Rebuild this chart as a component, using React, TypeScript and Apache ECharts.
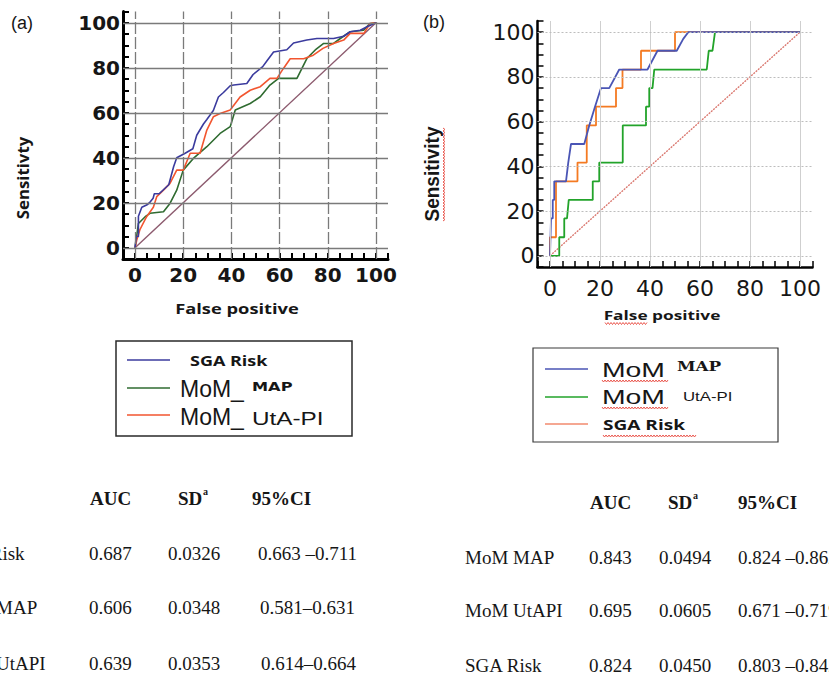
import React, { useEffect, useRef } from "react";
import * as echarts from "echarts";

// ---------- data ----------
const tickValues = [0, 20, 40, 60, 80, 100];

// Panel (a): [false positive %, sensitivity %]
const rocA_SGARisk = [
  [0, 0], [0.5, 5], [1.4, 5], [1.4, 14], [2.8, 18], [4.8, 19], [6, 20], [7.5, 22], [8, 24], [10, 24],
  [12, 26], [14, 28], [16, 36], [17.3, 40], [20.8, 42], [24, 44], [25.6, 50], [28.4, 55], [29.8, 57],
  [32.5, 61], [34.6, 67], [36.7, 69], [39.5, 72], [41, 72.3], [46.4, 73], [49, 77], [53, 80.5],
  [54.7, 83], [57.5, 87], [63, 88], [65.8, 91], [71.3, 92.3], [75.5, 93], [82.4, 93], [86.6, 94],
  [89.3, 96], [93.5, 96.7], [96.3, 98.2], [100, 100],
];
const rocA_MoMMAP = [
  [0, 0], [1.4, 10.8], [4.2, 13.8], [6.2, 15.3], [11.8, 16], [14.5, 19.7], [17.3, 25.6], [20, 34.5],
  [24.2, 39.7], [29.8, 44.9], [35.3, 50.8], [39.5, 53.8], [41.6, 61.2], [47.8, 64.1], [52, 67.1],
  [56, 72.3], [59.6, 75.3], [67.2, 75.3], [71.3, 84.1], [74.8, 87.9], [78.3, 90.8], [82.4, 90.8],
  [85.2, 93], [89.3, 96], [94.9, 96.7], [97.6, 99.7], [100, 100],
];
const rocA_MoMUtAPI = [
  [0, 0], [0.7, 3.4], [2, 8], [4.8, 13.8], [7.6, 18], [9, 22.7], [11.8, 25.6], [14.5, 28.6],
  [17.3, 34.5], [20, 34.5], [22.9, 42], [27, 42], [29.8, 52.3], [32.5, 58.2], [35.3, 59.7],
  [39.5, 61.2], [43.6, 67], [47.8, 70], [52, 71.6], [56, 75.3], [58.9, 75.3], [61.6, 79.7],
  [64.4, 84], [70, 84], [74, 85.6], [78, 88.6], [82.4, 90.8], [86.6, 92.3], [89.3, 95.3],
  [95, 95.3], [97.6, 99.7], [100, 100],
];

// Panel (b)
const rocB_MoMMAP = [
  [0, 0], [0.4, 16.7], [1.1, 16.7], [1.1, 25], [1.7, 25], [1.7, 33.3], [6.4, 33.3], [7.3, 41.7],
  [8.4, 50], [13.7, 50], [15.7, 58.3], [18, 66.7], [20.4, 75], [23.7, 75], [27.7, 83.3], [39, 83.3],
  [43, 91.7], [50.7, 91.7], [53.3, 97], [55.3, 100], [100, 100],
];
const rocB_MoMUtAPI = [
  [0, 0], [3.7, 0], [3.7, 8.3], [5.7, 8.3], [5.7, 16.7], [6.8, 16.7], [7.5, 25], [17.1, 25],
  [17.1, 33.3], [19.7, 33.3], [19.7, 41.7], [29.1, 41.7], [29.1, 58.3], [38.4, 58.3], [38.4, 66.7],
  [39.7, 66.7], [39.7, 75], [41, 75], [41.7, 83.3], [62.7, 83.3], [63.5, 91.7], [65, 91.7],
  [66, 100], [100, 100],
];
const rocB_SGARisk = [
  [0, 0], [0, 8.3], [2.4, 8.3], [2.4, 33.3], [11, 33.3], [11, 41.7], [14.7, 41.7], [14.7, 58.3],
  [18.4, 58.3], [18.4, 66.7], [26.4, 66.7], [26.4, 75], [29, 75], [29, 83.3], [36.4, 83.3],
  [36.4, 91.7], [50, 91.7], [50, 100], [100, 100],
];
const referenceLine = [[0, 0], [100, 100]];

const tableHeaders = ["AUC", "SD", "95%CI"];
const tableA_labels = ["SGA Risk", "MoM MAP", "MoM UtAPI"];
const tableA_auc = ["0.687", "0.606", "0.639"];
const tableA_sd = ["0.0326", "0.0348", "0.0353"];
const tableA_ci = ["0.663 –0.711", "0.581–0.631", "0.614–0.664"];
const tableB_labels = ["MoM MAP", "MoM UtAPI", "SGA Risk"];
const tableB_auc = ["0.843", "0.695", "0.824"];
const tableB_sd = ["0.0494", "0.0605", "0.0450"];
const tableB_ci = ["0.824 –0.862", "0.671 –0.719", "0.803 –0.842"];

// ---------- helpers ----------
const INK = "#161616";

function txt(text: string, x: number, y: number, font: string, opts: any = {}) {
  const align = opts.align || "left";
  const valign = opts.valign || "middle";
  return {
    type: "text",
    x,
    y,
    rotation: opts.rotation || 0,
    scaleX: opts.scaleX || 1,
    scaleY: opts.scaleY || 1,
    silent: true,
    z: 10,
    style: {
      text,
      font,
      fill: opts.fill || INK,
      textAlign: align,
      align,
      textVerticalAlign: valign,
      verticalAlign: valign,
    },
  };
}

function wavyH(x1: number, x2: number, y: number) {
  const pts: number[][] = [];
  let k = 0;
  for (let x = x1; x <= x2; x += 1.5) {
    pts.push([x, y + (k % 2 === 0 ? -1 : 1)]);
    k++;
  }
  return { type: "polyline", silent: true, z: 10, shape: { points: pts }, style: { stroke: "#e8463c", lineWidth: 0.9, fill: null } };
}
function wavyV(x: number, y1: number, y2: number) {
  const pts: number[][] = [];
  let k = 0;
  for (let y = y1; y <= y2; y += 1.5) {
    pts.push([x + (k % 2 === 0 ? -1 : 1), y]);
    k++;
  }
  return { type: "polyline", silent: true, z: 10, shape: { points: pts }, style: { stroke: "#e8463c", lineWidth: 0.9, fill: null } };
}
function hline(x1: number, x2: number, y: number, color: string) {
  return { type: "line", silent: true, z: 10, shape: { x1, y1: y, x2, y2: y }, style: { stroke: color, lineWidth: 1.5 } };
}

function axis(gridIndex: number, o: any) {
  return {
    type: "value",
    gridIndex,
    min: -5,
    max: 105,
    interval: 5,
    axisLine: { show: true, onZero: false, lineStyle: { color: "#000", width: o.lineWidth } },
    axisTick: { show: true, inside: true, length: 6, lineStyle: { color: "#000", width: o.tickWidth } },
    splitLine: { show: false },
    axisLabel: {
      formatter: (v: number) => (tickValues.includes(v) ? String(v) : ""),
      margin: o.margin,
      color: INK,
      fontSize: o.fontSize,
      fontWeight: o.fontWeight,
      fontFamily: "DejaVu Sans",
    },
  };
}

function gridMarks(vStyle: any, hStyle: any) {
  return {
    silent: true,
    symbol: ["none", "none"],
    label: { show: false },
    emphasis: { disabled: true },
    data: [
      ...tickValues.map((v) => ({ xAxis: v, lineStyle: vStyle })),
      ...tickValues.map((v) => ({ yAxis: v, lineStyle: hStyle })),
    ],
  };
}

function curve(name: string, xi: number, data: number[][], color: string, width = 1.6) {
  return {
    type: "line",
    name,
    xAxisIndex: xi,
    yAxisIndex: xi,
    data,
    symbol: "none",
    showSymbol: false,
    z: 4,
    lineStyle: { color, width },
    emphasis: { disabled: true },
  };
}

export default function App() {
  const ref = useRef<HTMLDivElement>(null);
  useEffect(() => {
    if (!ref.current) return;
    const chart = echarts.init(ref.current, null, { renderer: "svg" });

    const SER = "'Liberation Serif', serif";
    const OS = "'Open Sans', sans-serif";
    const LS = "'Liberation Sans', sans-serif";

    const graphic: any[] = [];
    // panel tags
    graphic.push(txt("(a)", 11, 23, `18px ${LS}`));
    graphic.push(txt("(b)", 423, 22, `18px ${LS}`));
    // axis names (a)
    graphic.push(txt("False positive", 237, 308, `bold 15px ${OS}`, { align: "center", scaleX: 1.22 }));
    graphic.push(txt("Sensitivty", 23, 178, `bold 16px ${OS}`, { align: "center", rotation: Math.PI / 2, scaleX: 1.05 }));
    // axis names (b)
    graphic.push(txt("False positive", 662, 315, `bold 13px ${OS}`, { align: "center", scaleX: 1.33 }));
    graphic.push(wavyH(605, 648, 323.5));
    graphic.push(txt("Sensitivity", 432, 174, `bold 20px ${LS}`, { align: "center", rotation: Math.PI / 2, scaleX: 0.95 }));
    graphic.push(wavyV(444, 128, 221));

    // legend (a)
    graphic.push({ type: "rect", silent: true, z: 9, shape: { x: 116, y: 341, width: 236, height: 95 }, style: { fill: "#fff", stroke: "#2a2a2a", lineWidth: 1.5 } });
    graphic.push(hline(127, 170, 360, "#3b3b9e"));
    graphic.push(txt("SGA Risk", 190, 360, `bold 15px ${OS}`, { scaleX: 1.2 }));
    graphic.push(hline(127, 170, 388, "#2f6b30"));
    graphic.push(txt("MoM_", 180, 389, `23px ${LS}`));
    graphic.push(txt("MAP", 252, 393, `bold 12px 'DejaVu Sans'`, { valign: "bottom", scaleX: 1.35 }));
    graphic.push(hline(127, 170, 415, "#f2552f"));
    graphic.push(txt("MoM_", 180, 417, `23px ${LS}`));
    graphic.push(txt("UtA-PI", 252, 418, `19px ${LS}`, { scaleX: 1.28 }));

    // legend (b)
    graphic.push({ type: "rect", silent: true, z: 9, shape: { x: 533, y: 348, width: 245, height: 94 }, style: { fill: "#fff", stroke: "#3a3a3a", lineWidth: 1.2 } });
    graphic.push(hline(545, 588, 369, "#4a55b5"));
    graphic.push(txt("MoM", 602, 369, `21px ${LS}`, { scaleX: 1.35 }));
    graphic.push(wavyH(602, 668, 381));
    graphic.push(txt("MAP", 677, 366, `bold 12px 'DejaVu Serif'`, { scaleX: 1.4 }));
    graphic.push(hline(545, 588, 397, "#22a32a"));
    graphic.push(txt("MoM", 602, 396, `21px ${LS}`, { scaleX: 1.35 }));
    graphic.push(wavyH(602, 668, 408));
    graphic.push(txt("UtA-PI", 683, 397, `12px ${LS}`, { scaleX: 1.4 }));
    graphic.push(hline(545, 588, 424, "#f28a6e"));
    graphic.push(txt("SGA Risk", 603, 425, `bold 14px ${OS}`, { scaleX: 1.36 }));
    graphic.push(wavyH(603, 696, 436));

    // table (a)
    const hA = 498;
    graphic.push(txt(tableHeaders[0], 90, hA, `bold 19px ${SER}`));
    graphic.push(txt(tableHeaders[1], 178, hA, `bold 19px ${SER}`));
    graphic.push(txt("a", 203, hA - 7, `bold 10px ${SER}`));
    graphic.push(txt(tableHeaders[2], 252, hA, `bold 19px ${SER}`));
    const rowsA = [553, 607, 663];
    const ciA_x = [258, 260, 261];
    rowsA.forEach((y, i) => {
      graphic.push(txt(tableA_labels[i], -52, y, `19px ${SER}`));
      graphic.push(txt(tableA_auc[i], 89, y, `19px ${SER}`));
      graphic.push(txt(tableA_sd[i], 168, y, `19px ${SER}`));
      graphic.push(txt(tableA_ci[i], ciA_x[i], y, `19px ${SER}`));
    });
    // table (b)
    const hB = 502;
    graphic.push(txt(tableHeaders[0], 590, hB, `bold 19px ${SER}`));
    graphic.push(txt(tableHeaders[1], 668, hB, `bold 19px ${SER}`));
    graphic.push(txt("a", 693, hB - 7, `bold 10px ${SER}`));
    graphic.push(txt(tableHeaders[2], 738, hB, `bold 19px ${SER}`));
    const rowsB = [557, 610, 665];
    rowsB.forEach((y, i) => {
      graphic.push(txt(tableB_labels[i], 465, y, `19px ${SER}`));
      graphic.push(txt(tableB_auc[i], 589, y, `19px ${SER}`));
      graphic.push(txt(tableB_sd[i], 659, y, `19px ${SER}`));
      graphic.push(txt(tableB_ci[i], 738, y, `19px ${SER}`));
    });

    const option: any = {
      animation: false,
      backgroundColor: "#fff",
      grid: [
        { left: 123, top: 11.5, width: 265, height: 247.5 },
        { left: 537.5, top: 21, width: 275, height: 246 },
      ],
      xAxis: [
        axis(0, { lineWidth: 3, tickWidth: 2, margin: 6, fontSize: 20, fontWeight: "bold" }),
        axis(1, { lineWidth: 2.5, tickWidth: 1.5, margin: 10, fontSize: 22, fontWeight: "normal" }),
      ],
      yAxis: [
        axis(0, { lineWidth: 3, tickWidth: 2, margin: 3, fontSize: 20, fontWeight: "bold" }),
        axis(1, { lineWidth: 2.5, tickWidth: 1.5, margin: 3, fontSize: 22, fontWeight: "normal" }),
      ],
      series: [
        {
          ...curve("Reference (a)", 0, referenceLine, "#8c5a6e", 1.4),
          z: 3,
          markLine: gridMarks(
            { color: "#7a7a7a", width: 1.3, type: [12, 3] },
            { color: "#7a7a7a", width: 1.3, type: "solid" }
          ),
        },
        curve("MoM_MAP (a)", 0, rocA_MoMMAP, "#2f6b30"),
        curve("MoM_UtA-PI (a)", 0, rocA_MoMUtAPI, "#f2552f"),
        curve("SGA Risk (a)", 0, rocA_SGARisk, "#3b3b9e"),
        {
          ...curve("Reference (b)", 1, referenceLine, "#d9736a", 1.3),
          z: 3,
          lineStyle: { color: "#d9736a", width: 1.3, type: [2, 1] },
          markLine: gridMarks(
            { color: "#cfcfcf", width: 1, type: "solid" },
            { color: "#bdbdbd", width: 1, type: [2, 2] }
          ),
        },
        curve("MoM UtA-PI (b)", 1, rocB_MoMUtAPI, "#22a32a", 1.8),
        curve("SGA Risk (b)", 1, rocB_SGARisk, "#f47a22", 1.8),
        curve("MoM MAP (b)", 1, rocB_MoMMAP, "#4a55b5", 1.8),
      ],
      graphic,
    };
    chart.setOption(option);
    return () => chart.dispose();
  }, []);
  return (
    <div
      ref={ref}
      style={{ position: "fixed", left: 0, top: 0, width: 829, height: 675, background: "#fff" }}
    />
  );
}
